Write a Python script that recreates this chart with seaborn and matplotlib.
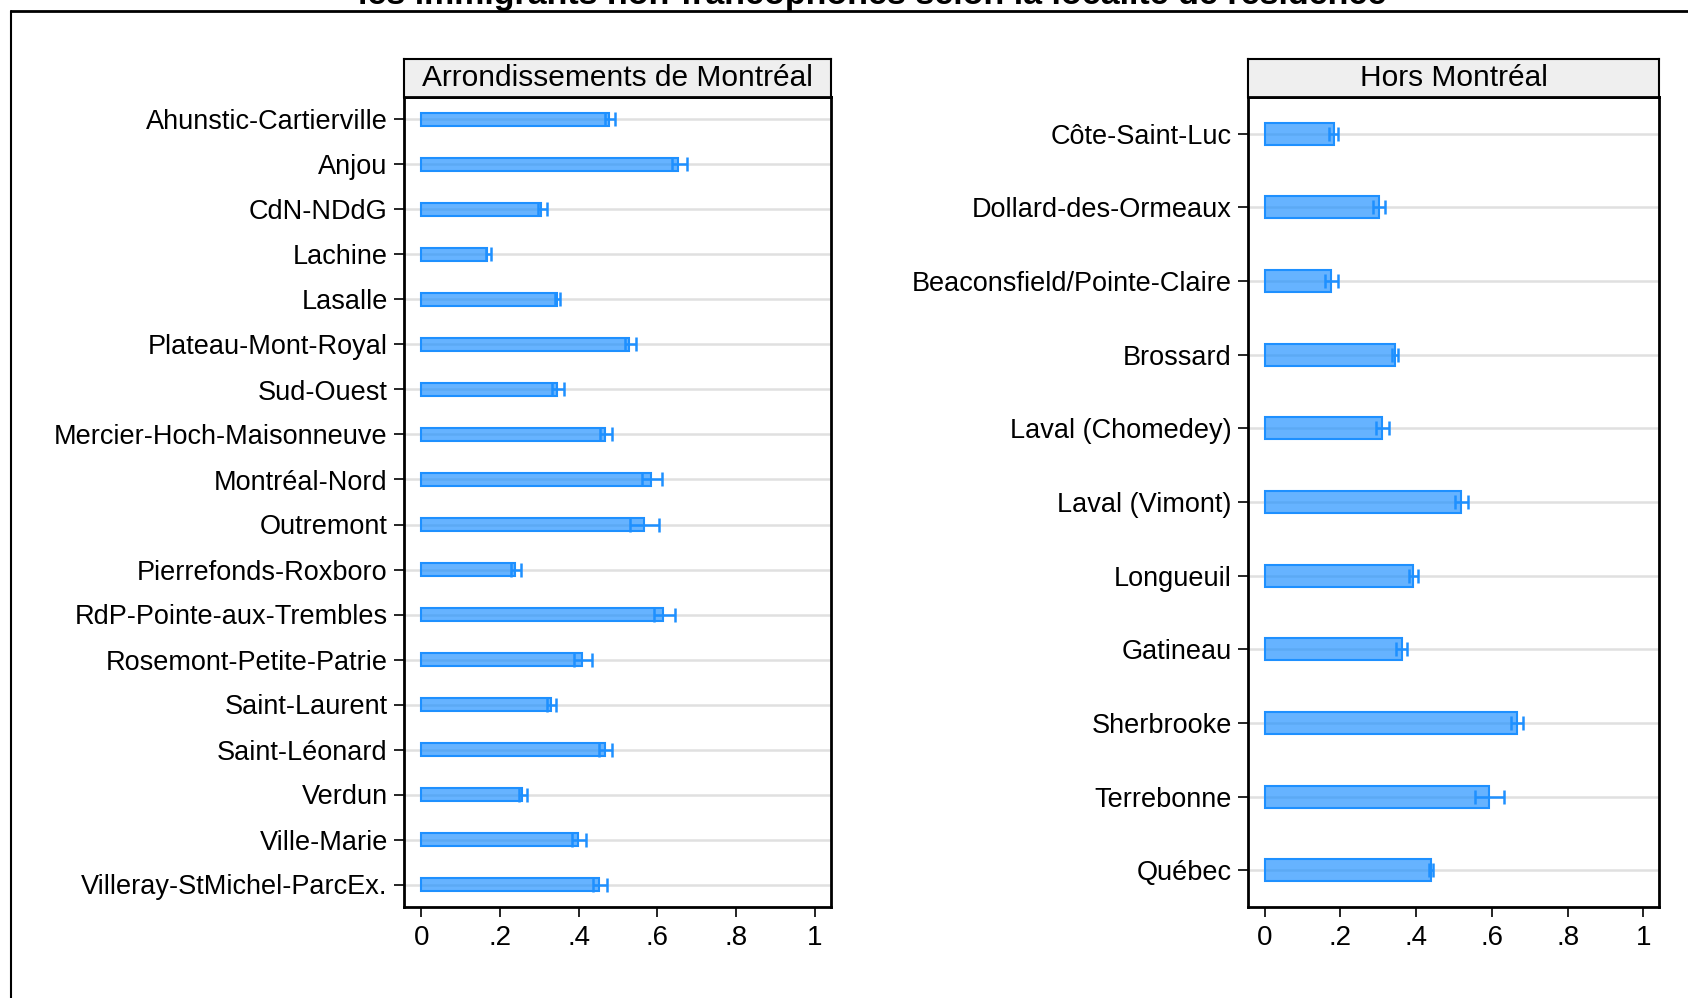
import numpy as np
import pandas as pd
import seaborn as sns
import matplotlib.pyplot as plt

# data (mean + confidence interval)
mtl_names = ["Ahunstic-Cartierville", "Anjou", "CdN-NDdG", "Lachine", "Lasalle",
             "Plateau-Mont-Royal", "Sud-Ouest", "Mercier-Hoch-Maisonneuve",
             "Montréal-Nord", "Outremont", "Pierrefonds-Roxboro",
             "RdP-Pointe-aux-Trembles", "Rosemont-Petite-Patrie", "Saint-Laurent",
             "Saint-Léonard", "Verdun", "Ville-Marie", "Villeray-StMichel-ParcEx."]
mtl_mean = [0.477, 0.653, 0.305, 0.168, 0.345, 0.528, 0.345, 0.467, 0.583,
            0.566, 0.239, 0.615, 0.409, 0.329, 0.467, 0.256, 0.399, 0.451]
mtl_lo = [0.467, 0.638, 0.296, 0.164, 0.340, 0.517, 0.332, 0.454, 0.561,
          0.530, 0.228, 0.591, 0.387, 0.319, 0.452, 0.249, 0.383, 0.437]
mtl_hi = [0.492, 0.674, 0.319, 0.177, 0.353, 0.545, 0.362, 0.484, 0.611,
          0.605, 0.254, 0.644, 0.434, 0.342, 0.484, 0.268, 0.418, 0.472]

hors_names = ["Côte-Saint-Luc", "Dollard-des-Ormeaux", "Beaconsfield/Pointe-Claire",
              "Brossard", "Laval (Chomedey)", "Laval (Vimont)", "Longueuil",
              "Gatineau", "Sherbrooke", "Terrebonne", "Québec"]
hors_mean = [0.182, 0.301, 0.174, 0.344, 0.309, 0.518, 0.392, 0.362, 0.665, 0.593, 0.439]
hors_lo = [0.171, 0.286, 0.158, 0.335, 0.293, 0.502, 0.380, 0.348, 0.651, 0.555, 0.434]
hors_hi = [0.194, 0.318, 0.194, 0.353, 0.327, 0.536, 0.406, 0.377, 0.682, 0.633, 0.445]

xticks = [0, 0.2, 0.4, 0.6, 0.8, 1]
xticklabels = ["0", ".2", ".4", ".6", ".8", "1"]

sns.set_style("white")
plt.rcParams['font.family'] = ['Liberation Sans', 'DejaVu Sans']

blue = "#1E90FF"
W, H = 1688, 998
fig = plt.figure(figsize=(W / 100, H / 100), dpi=100)


def px_box(x0, y0, x1, y1):
    # convert pixel box (top-left origin) to figure fraction rect
    return [x0 / W, 1 - y1 / H, (x1 - x0) / W, (y1 - y0) / H]


def panel(rect, head_rect, title, names, mean, lo, hi):
    ax = fig.add_axes(rect)
    df = pd.DataFrame({"lieu": names, "prop": mean})
    n = len(names)
    for i in range(n):
        ax.axhline(i, color="#e0e0e0", lw=1.8, zorder=0)
    sns.barplot(data=df, x="prop", y="lieu", orient="h", errorbar=None,
                color=blue, saturation=1, width=0.3, ax=ax, zorder=2)
    for p in ax.patches:
        p.set_facecolor((30/255, 144/255, 255/255, 0.68))
        p.set_edgecolor(blue)
        p.set_linewidth(1.5)
    m = np.array(mean)
    err = np.vstack([m - np.array(lo), np.array(hi) - m])
    ax.errorbar(m, np.arange(n), xerr=err, fmt="none", ecolor=blue,
                elinewidth=1.8, capsize=4.7, capthick=1.8, zorder=3)
    ax.set_xlim(-0.044, 1.041)
    ax.set_ylim(n - 0.5, -0.5)
    ax.set_xticks(xticks)
    ax.set_xticklabels(xticklabels)
    ax.set_xlabel("")
    ax.set_ylabel("")
    ax.tick_params(axis="y", labelsize=19.5, length=7.2, width=1.2,
                   direction="out", colors="black", pad=4.5, left=True)
    ax.tick_params(axis="x", labelsize=20, length=7.2, width=1.2,
                   direction="out", colors="black", pad=6, bottom=True)
    for s in ax.spines.values():
        s.set_visible(True)
        s.set_color("black")
        s.set_linewidth(2)
    hx = fig.add_axes(head_rect)
    hx.set_facecolor("#efefef")
    hx.set_xticks([])
    hx.set_yticks([])
    for s in hx.spines.values():
        s.set_color("black")
        s.set_linewidth(1.5)
    hx.spines["bottom"].set_linewidth(2)
    hx.text(0.5, 0.5, title, ha="center", va="center", fontsize=21.5,
            color="black", transform=hx.transAxes)
    return ax


panel(px_box(404, 97, 831, 907), px_box(404, 59, 831, 97),
      "Arrondissements de Montréal", mtl_names, mtl_mean, mtl_lo, mtl_hi)
panel(px_box(1248, 97, 1659, 907), px_box(1248, 59, 1659, 97),
      "Hors Montréal", hors_names, hors_mean, hors_lo, hors_hi)

# outer frame of the graph region (cropped at right and bottom)
fig.add_artist(plt.Line2D([11 / W, 11 / W], [0, 1 - 11 / H], color="black",
                          lw=1.5, transform=fig.transFigure))
fig.add_artist(plt.Line2D([11 / W, 1], [1 - 11 / H, 1 - 11 / H], color="black",
                          lw=2, transform=fig.transFigure))

# title, mostly cut off at the top of the image (as in the reference)
fig.text(872 / W, 1 - 4 / H, "les immigrants non-francophones selon la localité de résidence",
         ha="center", va="baseline", fontsize=24.5, fontweight="bold", color="black")

fig.savefig("out.png", dpi=100)
